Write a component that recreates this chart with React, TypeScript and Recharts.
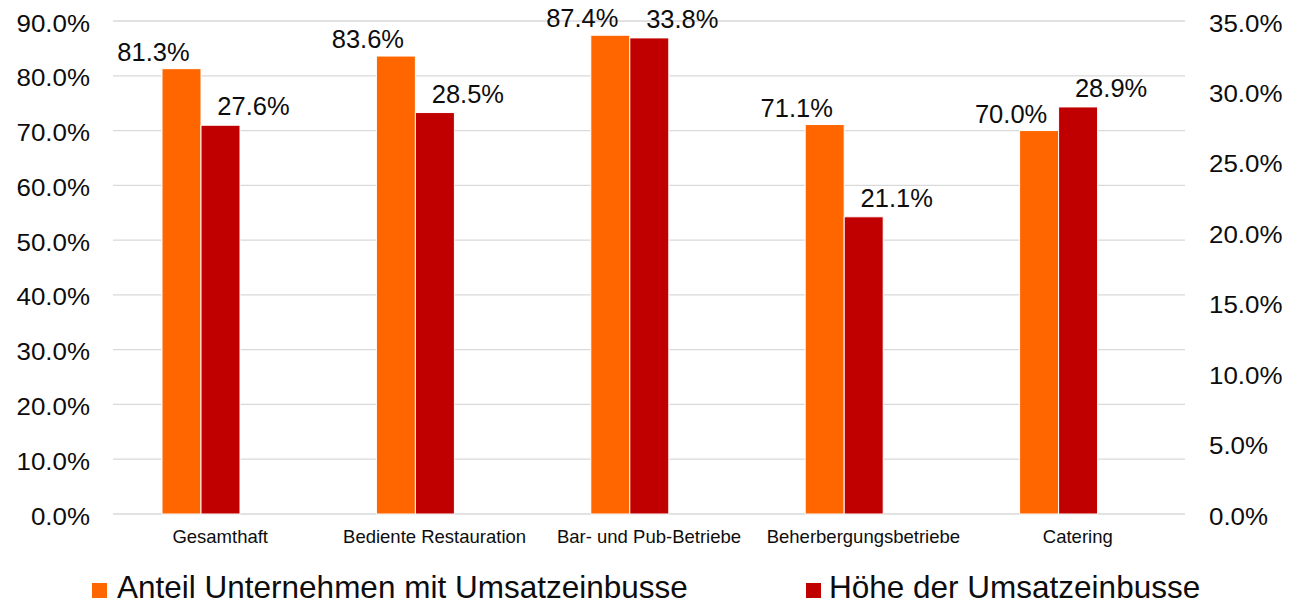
import React from 'react';
import { BarChart, Bar, XAxis, YAxis, CartesianGrid, LabelList, Legend } from 'recharts';

const categories = ['Gesamthaft', 'Bediente Restauration', 'Bar- und Pub-Betriebe', 'Beherbergungsbetriebe', 'Catering'];
const anteilValues = [81.3, 83.6, 87.4, 71.1, 70.0];
const hoeheValues = [27.6, 28.5, 33.8, 21.1, 28.9];
const leftTicks = [0, 10, 20, 30, 40, 50, 60, 70, 80, 90];
const rightTicks = [0, 5, 10, 15, 20, 25, 30, 35];
const seriesNames = ['Anteil Unternehmen mit Umsatzeinbusse', 'Höhe der Umsatzeinbusse'];

const ORANGE = '#FF6600';
const RED = '#C00000';
const FONT = '"Liberation Sans", Arial, sans-serif';
const TEXT = '#0d0d0d';

const data = categories.map((c, i) => ({ name: c, anteil: anteilValues[i], hoehe: hoeheValues[i] }));

const fmt = (v: number) => `${Number(v).toFixed(1)}%`;

const LeftTick = (props: any) => {
  const { x, y, payload } = props;
  return (
    <g transform={`translate(${x},${y + 10.5}) scale(1.08,1)`}>
      <text x={0} y={0} textAnchor="end" fontSize={24} fontFamily={FONT} fill={TEXT}>{fmt(payload.value)}</text>
    </g>
  );
};

const RightTick = (props: any) => {
  const { x, y, payload } = props;
  return (
    <g transform={`translate(${x},${y + 10.5}) scale(1.08,1)`}>
      <text x={0} y={0} textAnchor="start" fontSize={24} fontFamily={FONT} fill={TEXT}>{fmt(payload.value)}</text>
    </g>
  );
};

const CatTick = (props: any) => {
  const { x, y, payload } = props;
  return (
    <text x={x} y={y + 29} textAnchor="middle" fontSize={18.5} fontFamily={FONT} fill={TEXT}>{payload.value}</text>
  );
};

const makeLabel = (dx: number, dy: number) => (props: any) => {
  const { x, y, width, value } = props;
  if (value == null) return null;
  return (
    <text x={x + width / 2 + dx} y={y - dy} textAnchor="middle" fontSize={25.5} fontFamily={FONT} fill={TEXT}>{fmt(value)}</text>
  );
};

const LegendContent = () => (
  <svg width={1289} height={40} style={{ display: 'block', overflow: 'visible' }}>
    <rect x={92} y={20} width={15} height={15} fill={ORANGE} />
    <text x={117} y={35} fontSize={31.5} fontFamily={FONT} fill={TEXT}>{seriesNames[0]}</text>
    <rect x={806} y={20} width={15} height={15} fill={RED} />
    <text x={829} y={35} fontSize={31.5} fontFamily={FONT} fill={TEXT}>{seriesNames[1]}</text>
  </svg>
);

export default function App() {
  return (
    <div style={{ position: 'absolute', left: 0, top: 0, width: 1289, height: 603, background: '#fff' }}>
      <BarChart
        width={1289}
        height={603}
        data={data}
        margin={{ top: 21, right: 0, bottom: 0, left: 0 }}
        barGap={0}
        barSize={39}
      >
        <CartesianGrid yAxisId="left" vertical={false} stroke="#d9d9d9" strokeWidth={1.3} />
        <XAxis dataKey="name" axisLine={false} tickLine={false} tickSize={0} tickMargin={0} height={49} tick={<CatTick />} interval={0} />
        <YAxis yAxisId="left" orientation="left" domain={[0, 90]} ticks={leftTicks} width={113} axisLine={false} tickLine={false} tickSize={0} tickMargin={23} tick={<LeftTick />} interval={0} />
        <YAxis yAxisId="right" orientation="right" domain={[0, 35]} ticks={rightTicks} width={104} axisLine={false} tickLine={false} tickSize={0} tickMargin={24} tick={<RightTick />} interval={0} />
        <Legend verticalAlign="bottom" content={<LegendContent />} wrapperStyle={{ left: 0, bottom: 0, width: 1289, height: 40 }} />
        <Bar yAxisId="left" dataKey="anteil" name={seriesNames[0]} fill={ORANGE} stroke="#ffffff" strokeWidth={1} isAnimationActive={false}>
          <LabelList dataKey="anteil" content={makeLabel(-28, 8)} />
        </Bar>
        <Bar yAxisId="right" dataKey="hoehe" name={seriesNames[1]} fill={RED} stroke="#ffffff" strokeWidth={1} isAnimationActive={false}>
          <LabelList dataKey="hoehe" content={makeLabel(33, 10)} />
        </Bar>
        <Bar yAxisId="left" dataKey="spacer" fill="none" legendType="none" isAnimationActive={false} />
      </BarChart>
    </div>
  );
}
